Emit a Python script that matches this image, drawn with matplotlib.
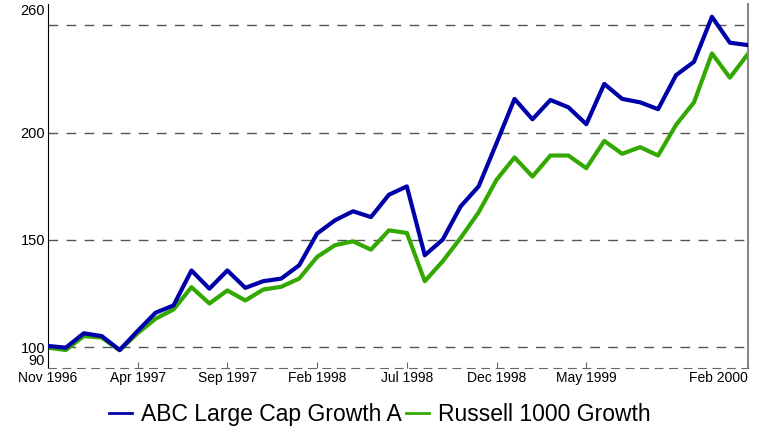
import matplotlib
matplotlib.use("Agg")
import matplotlib.pyplot as plt
import pandas as pd

# monthly growth of 100, Nov 1996 - Feb 2000
months = pd.date_range("1996-11-01", periods=40, freq="MS")
abc = [100.5, 99.7, 106.4, 105.1, 98.6, 107.5, 116.0, 119.4, 135.7, 127.2,
       135.7, 127.6, 130.7, 131.9, 138.1, 152.9, 159.1, 163.3, 160.6, 171.0,
       174.9, 142.8, 150.1, 165.6, 174.9, 195.1, 215.7, 206.2, 215.2, 211.8,
       203.9, 222.7, 215.7, 214.1, 210.9, 226.8, 233.0, 254.0, 241.9, 240.8]
russell = [99.7, 98.6, 105.1, 104.4, 98.5, 106.4, 113.2, 117.5, 127.9, 120.3,
           126.4, 121.7, 126.8, 128.1, 131.9, 142.0, 147.5, 149.3, 145.4, 154.4,
           153.2, 130.7, 140.0, 150.9, 162.8, 178.0, 188.4, 179.5, 189.3, 189.3,
           183.4, 196.1, 190.1, 193.2, 189.3, 203.6, 214.1, 236.9, 225.6, 236.6]
tick_idx = [0, 5, 10, 15, 20, 25, 30, 39]
tick_labels = [months[i].strftime("%b %Y") for i in tick_idx]
grid_vals = [100, 150, 200, 250]
ytick_vals = [90, 100, 150, 200, 260]

plt.rcParams["font.family"] = ["Liberation Sans", "DejaVu Sans"]

fig = plt.figure(figsize=(7.6, 4.34), dpi=100)
ax = fig.add_axes([0.063, 0.151, 0.921, 0.84])

x = list(range(len(months)))
for g in grid_vals:
    ax.axhline(g, color="#555555", lw=1, ls=(0, (7, 6)), zorder=1)

ax.plot(x, abc, color="#0000a8", lw=3, label="ABC Large Cap Growth A", zorder=3)
ax.plot(x, russell, color="#33a800", lw=3, label="Russell 1000 Growth", zorder=2)

ax.set_xlim(0, 39)
ax.set_ylim(90, 260)
ax.set_xticks(tick_idx)
ax.set_xticklabels(tick_labels, fontsize=10)
ax.get_xticklabels()[-1].set_ha("right")
ax.set_yticks(ytick_vals)
ax.set_yticklabels([str(v) for v in ytick_vals], fontsize=10.5)
ax.get_yticklabels()[-1].set_va("top")
ax.get_yticklabels()[0].set_va("bottom")
ax.tick_params(axis="x", direction="in", length=4, color="#666666", pad=2)
ax.tick_params(axis="y", length=0, pad=2)

ax.spines["top"].set_visible(False)
ax.spines["left"].set_color("black")
ax.spines["right"].set_color("#888888")
ax.spines["right"].set_linewidth(1.5)
ax.spines["bottom"].set_color("#666666")
ax.spines["bottom"].set_linestyle((0, (7, 6)))

leg = fig.legend(loc="lower center", bbox_to_anchor=(0.5, -0.03), ncol=2, frameon=False,
                 fontsize=16.5, handlelength=1.0, handletextpad=0.4, columnspacing=0.2)
for h in leg.get_lines():
    h.set_linewidth(2)

fig.savefig("out.png", dpi=100)
